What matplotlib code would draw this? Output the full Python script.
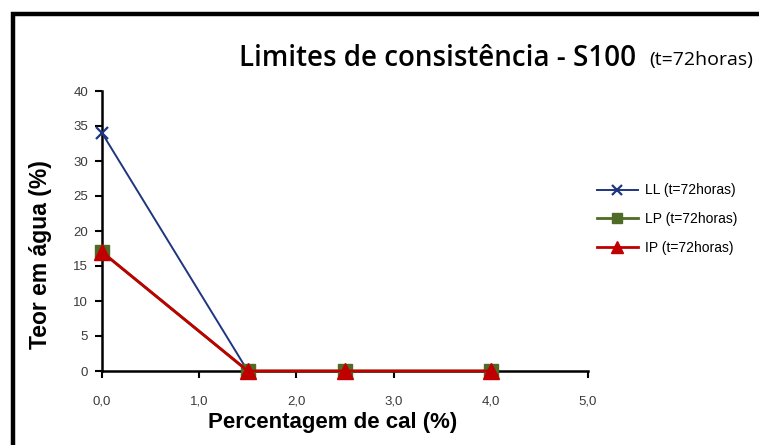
import matplotlib
matplotlib.use("Agg")
import matplotlib.pyplot as plt
from matplotlib.patches import Rectangle
from matplotlib.ticker import FixedLocator, FuncFormatter

# Lime content (%) and consistency limits after 72 hours of curing
cal = [0.0, 1.5, 2.5, 4.0]
ll = [34, 0, 0, 0]
lp = [17, 0, 0, 0]
ip = [17, 0, 0, 0]

x_ticks = [0, 1, 2, 3, 4, 5]
y_ticks = [0, 5, 10, 15, 20, 25, 30, 35, 40]

W, H = 759, 445
fig = plt.figure(figsize=(W / 100, H / 100), dpi=100)
plt.rcParams['font.family'] = ['Liberation Sans', 'DejaVu Sans']

# outer chart frame (open to the right and bottom edges)
fig.patches.append(Rectangle((13 / W, -0.05), 1.2, (H - 14) / H + 0.05,
                             transform=fig.transFigure, fill=False,
                             edgecolor='black', linewidth=3.2, zorder=0))

ax = fig.add_axes([102 / W, 1 - 371 / H, (588 - 102) / W, (371 - 91) / H])
ax.set_xlim(0, 5)
ax.set_ylim(0, 40)

ax.plot(cal, ll, color='#1F3580', linewidth=1.4, marker='x', markersize=9,
        markeredgewidth=1.6, label='LL (t=72horas)', clip_on=False, zorder=3)
ax.plot(cal, lp, color='#4F6B26', linewidth=2.0, marker='s', markersize=10,
        label='LP (t=72horas)', clip_on=False, zorder=4)
ax.plot(cal, ip, color='#C00000', linewidth=2.0, marker='^', markersize=11,
        label='IP (t=72horas)', clip_on=False, zorder=5)

for s in ('top', 'right'):
    ax.spines[s].set_visible(False)
for s in ('left', 'bottom'):
    ax.spines[s].set_linewidth(1.8)

ax.xaxis.set_major_locator(FixedLocator(x_ticks))
ax.yaxis.set_major_locator(FixedLocator(y_ticks))
ax.xaxis.set_major_formatter(FuncFormatter(lambda v, p: f"{v:.1f}".replace('.', ',')))
ax.yaxis.set_major_formatter(FuncFormatter(lambda v, p: f"{int(v)}"))
ax.tick_params(axis='x', direction='out', length=5, width=1.5, pad=13,
               labelsize=9.5, labelcolor='#3a3a3a')
ax.tick_params(axis='y', direction='out', length=5, width=1.5, pad=5,
               labelsize=9.5, labelcolor='#3a3a3a')

ax.set_xlabel('Percentagem de cal (%)', fontsize=16, fontweight='bold',
              labelpad=3, x=0.475)
ax.set_ylabel('Teor em água (%)', fontsize=16.5, fontweight='bold',
              labelpad=15, y=0.415)

fig.text(636 / W, 1 - 58 / H, 'Limites de consistência - S100', fontsize=20,
         family=['Open Sans', 'DejaVu Sans'], fontweight='semibold',
         ha='right', va='center')
fig.text(753 / W, 1 - 60 / H, '(t=72horas)', fontsize=14,
         family=['Open Sans', 'DejaVu Sans'], fontweight='normal',
         ha='right', va='center')

ax.legend(loc='upper left', bbox_to_anchor=(584 / W, 1 - 171 / H),
          bbox_transform=fig.transFigure, frameon=False, fontsize=10,
          handlelength=3.0, handletextpad=0.5, labelspacing=1.05,
          markerscale=0.75)

fig.savefig('out.png', dpi=100)
